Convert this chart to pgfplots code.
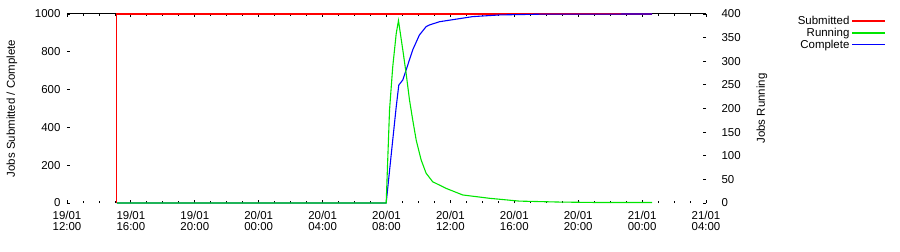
\documentclass[border=0pt]{standalone}
\usepackage{pgfplots}
\pgfplotsset{compat=1.18}
\usepackage{fontspec}
\setmainfont{Liberation Sans}
\definecolor{subm}{RGB}{255,0,0}
\definecolor{runn}{RGB}{0,230,0}
\definecolor{comp}{RGB}{0,0,255}
\begin{document}
\begin{tikzpicture}
\path[use as bounding box] (-67bp,-49bp) rectangle (833bp,203bp);
\pgfplotsset{
  base/.style={
    scale only axis, width=639bp, height=189bp, at={(0,0)}, anchor=south west,
    xmin=0, xmax=40,
    axis line style={draw=none},
    tick align=inside,
    major tick length=3bp, minor tick length=2bp,
    tick style={black, line width=0.8bp},
    tick label style={font=\fontsize{11.5}{11}\selectfont},
    label style={font=\fontsize{11.5}{12}\selectfont},
    /pgf/number format/assume math mode=true,
    /pgf/number format/1000 sep={},
    clip=false,
  }
}
\begin{axis}[base,
  ymin=0, ymax=1000,
  ytick={0,200,...,1000},
  ytick pos=left,
  xtick pos=both,
  xtick={0,4,...,40},
  minor x tick num=3,
  xticklabels={19/01\\12:00,19/01\\16:00,19/01\\20:00,20/01\\00:00,20/01\\04:00,20/01\\08:00,20/01\\12:00,20/01\\16:00,20/01\\20:00,21/01\\00:00,21/01\\04:00},
  xticklabel style={align=center, yshift=-5bp},
  yticklabel style={xshift=-3bp},
  ylabel={Jobs Submitted / Complete},
  ylabel style={at={([xshift=-55bp]axis description cs:0,0.5)}, anchor=center},
]
\draw[black, line width=1bp] (rel axis cs:0,1) -- (rel axis cs:1,1);
\addplot[subm, line width=1.1bp] coordinates {(3.125,0) (3.125,1000) (36.63,1000)};
\addplot[comp, line width=1.1bp] coordinates {
(3.125,0) (19.98,0) (20.39,333) (20.61,510) (20.77,624) (21.02,651) (21.33,730)
(21.64,810) (22.06,889) (22.48,933) (22.69,942) (23.31,959) (25.38,986)
(27.06,995) (29.56,999) (36.63,1000)};
\end{axis}
\begin{axis}[base,
  ymin=0, ymax=400,
  ytick={0,50,...,400},
  ytick pos=right, yticklabel pos=right,
  xtick=\empty,
  yticklabel style={xshift=12bp},
  ylabel={Jobs Running},
  ylabel style={at={([xshift=56bp]axis description cs:1,0.5)}, anchor=center},
  legend style={at={(axis description cs:1.2817,1.0)}, anchor=north east, draw=none, fill=none,
    font=\fontsize{11.5}{12}\selectfont, row sep=-2bp, inner sep=0pt},
  legend cell align=right,
  legend plot pos=right,
  legend image code/.code={\draw[#1] (0bp,0bp) -- (33bp,0bp);},
]
\addlegendimage{subm, line width=1.4bp}
\addlegendentry{Submitted}
\addlegendimage{runn, line width=1.4bp}
\addlegendentry{Running}
\addlegendimage{comp, line width=1.4bp}
\addlegendentry{Complete}
\addplot[runn, line width=1.1bp, forget plot] coordinates {
(3.125,0) (19.98,0) (20.19,197) (20.39,288) (20.61,359) (20.75,386) (21.02,324)
(21.23,274) (21.44,218) (21.64,176) (21.86,133) (22.17,91) (22.48,63) (22.89,45)
(23.73,31) (24.77,17) (26.44,10) (28.31,4) (30.81,2) (33.31,1) (36.63,1)};
\end{axis}
\end{tikzpicture}
\end{document}
